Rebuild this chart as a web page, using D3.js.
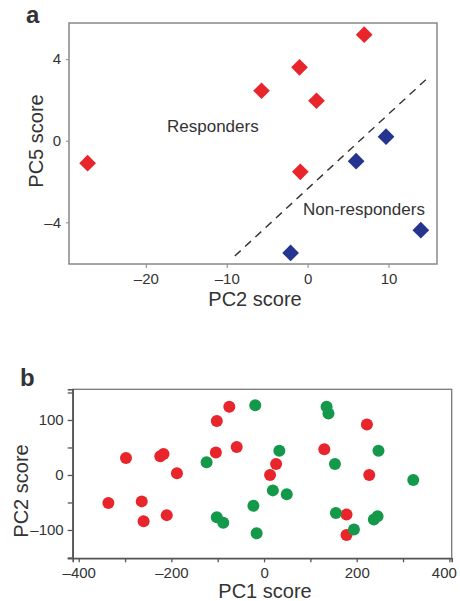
<!DOCTYPE html>
<html>
<head>
<meta charset="utf-8">
<script src="https://cdn.jsdelivr.net/npm/d3@7"></script>
<style>
  body { margin: 0; background: #fff; }
  text { font-family: "Liberation Sans", Arial, sans-serif; fill: #333; }
</style>
</head>
<body>
<svg id="fig" width="460" height="601"></svg>
<script>
// Panel a: PC2 vs PC5 scores
const respondersX = [7.0, -1.0, -5.7, 1.1, -27.2, -0.9];
const respondersY = [5.2, 3.6, 2.45, 1.96, -1.1, -1.52];
const nonRespondersX = [9.7, 6.0, 14.0, -2.1];
const nonRespondersY = [0.2, -1.0, -4.38, -5.5];
const boundaryX = [-9.0, 15.1];
const boundaryY = [-5.65, 3.17];
const aTicksX = [-20, -10, 0, 10];
const aTicksY = [-4, 0, 4];

// Panel b: PC1 vs PC2 scores
const redX = [-75, -102, 222, -298, -224, -217, -104, -59, 130, -188, 26, 13, 227, -336, -264, -260, -210, 178, 178];
const redY = [124, 98, 92, 31, 34, 38, 41, 51, 47, 3, 20, 0, 0, -51, -48, -84, -73, -72, -109];
const greenX = [-19, 135, 139, -124, 33, 247, 153, 322, 19, 49, -23, -102, -88, -16, 155, 194, 237, 245];
const greenY = [127, 124, 112, 23, 44, 44, 20, -9, -28, -35, -56, -77, -87, -106, -69, -99, -81, -75];
const bTicksX = [-400, -300, -200, -100, 0, 100, 200, 300, 400];
const bTicksY = [-150, -100, -50, 0, 50, 100, 150];

const svg = d3.select("#fig");
const red = "#e8252b", blue = "#24348f", green = "#14994a";
const fmt = d => d < 0 ? "\u2013" + Math.abs(d) : d;

// ---------- panel a ----------
const ax = d3.scaleLinear().domain([-29.5, 16]).range([69, 437]);
const ay = d3.scaleLinear().domain([-6.04, 5.77]).range([264, 23]);

const ga = svg.append("g");
ga.append("rect")
  .attr("x", 69).attr("y", 23).attr("width", 368).attr("height", 241)
  .attr("fill", "none").attr("stroke", "#888").attr("stroke-width", 1.5);

ga.append("g")
  .attr("transform", "translate(0,264)")
  .call(d3.axisBottom(ax).tickValues(aTicksX).tickSize(4).tickPadding(5).tickFormat(fmt))
  .call(g => g.select(".domain").remove())
  .call(g => g.selectAll("line").attr("stroke", "#888"))
  .call(g => g.selectAll("text").style("font-size", "15px").attr("fill", "#333"));

ga.append("g")
  .attr("transform", "translate(69,0)")
  .call(d3.axisLeft(ay).tickValues(aTicksY).tickSize(3).tickPadding(5).tickFormat(fmt))
  .call(g => g.select(".domain").remove())
  .call(g => g.selectAll("line").attr("stroke", "#888"))
  .call(g => g.selectAll("text").style("font-size", "15px").attr("fill", "#333"));

ga.append("line")
  .attr("x1", ax(boundaryX[0])).attr("y1", ay(boundaryY[0]))
  .attr("x2", ax(boundaryX[1])).attr("y2", ay(boundaryY[1]))
  .attr("stroke", "#333").attr("stroke-width", 1.4).attr("stroke-dasharray", "8,6");

const diamond = d3.symbol().type(d3.symbolSquare).size(140);
ga.selectAll(".resp").data(respondersX).join("path")
  .attr("d", diamond)
  .attr("transform", (d, i) => `translate(${ax(d)},${ay(respondersY[i])}) rotate(45)`)
  .attr("fill", red);
ga.selectAll(".nonresp").data(nonRespondersX).join("path")
  .attr("d", diamond)
  .attr("transform", (d, i) => `translate(${ax(d)},${ay(nonRespondersY[i])}) rotate(45)`)
  .attr("fill", blue);

ga.append("text").attr("x", 167).attr("y", 132)
  .style("font-size", "17px").text("Responders");
ga.append("text").attr("x", 303).attr("y", 215)
  .style("font-size", "17px").text("Non-responders");

ga.append("text").attr("x", 255).attr("y", 306).attr("text-anchor", "middle")
  .style("font-size", "20px").text("PC2 score");
ga.append("text").attr("transform", "translate(43,141) rotate(-90)").attr("text-anchor", "middle")
  .style("font-size", "20px").text("PC5 score");
ga.append("text").attr("x", 26).attr("y", 23)
  .style("font-size", "24px").style("font-weight", "bold").attr("fill", "#222").text("a");

// ---------- panel b ----------
const bx = d3.scaleLinear().domain([-413, 405]).range([72.7, 451.7]);
const by = d3.scaleLinear().domain([-151.5, 155.8]).range([558.3, 389.3]);

const gb = svg.append("g");
gb.append("rect")
  .attr("x", 72.7).attr("y", 389.3).attr("width", 379).attr("height", 169)
  .attr("fill", "none").attr("stroke", "#777").attr("stroke-width", 1.3);

gb.append("g")
  .attr("transform", "translate(0,558.3)")
  .call(d3.axisBottom(bx).tickValues(bTicksX).tickSize(4).tickPadding(5)
    .tickFormat(d => d % 200 === 0 ? fmt(d) : ""))
  .call(g => g.select(".domain").attr("stroke", "#555").attr("stroke-width", 1.6))
  .call(g => g.selectAll("line").attr("stroke", "#555").attr("stroke-width", 1.3))
  .call(g => g.selectAll("text").style("font-size", "15px").attr("fill", "#333"))
  // last label sits against the page edge, pull it in
  .call(g => g.selectAll(".tick").filter(d => d === 400).select("text")
    .attr("text-anchor", "end").attr("dx", 7));

gb.append("g")
  .attr("transform", "translate(72.7,0)")
  .call(d3.axisLeft(by).tickValues(bTicksY).tickSize(5).tickPadding(4)
    .tickFormat(d => d % 100 === 0 ? fmt(d) : ""))
  .call(g => g.select(".domain").attr("stroke", "#555").attr("stroke-width", 1.6))
  .call(g => g.selectAll("line").attr("stroke", "#555").attr("stroke-width", 1.3))
  .call(g => g.selectAll("text").style("font-size", "15px").attr("fill", "#333"));

gb.selectAll(".red").data(redX).join("circle")
  .attr("cx", d => bx(d)).attr("cy", (d, i) => by(redY[i])).attr("r", 6)
  .attr("fill", red);
gb.selectAll(".green").data(greenX).join("circle")
  .attr("cx", d => bx(d)).attr("cy", (d, i) => by(greenY[i])).attr("r", 6)
  .attr("fill", green);

gb.append("text").attr("x", 265).attr("y", 598).attr("text-anchor", "middle")
  .style("font-size", "20px").text("PC1 score");
gb.append("text").attr("transform", "translate(28,491) rotate(-90)").attr("text-anchor", "middle")
  .style("font-size", "20px").text("PC2 score");
gb.append("text").attr("x", 20).attr("y", 386)
  .style("font-size", "24px").style("font-weight", "bold").attr("fill", "#222").text("b");
</script>
</body>
</html>
